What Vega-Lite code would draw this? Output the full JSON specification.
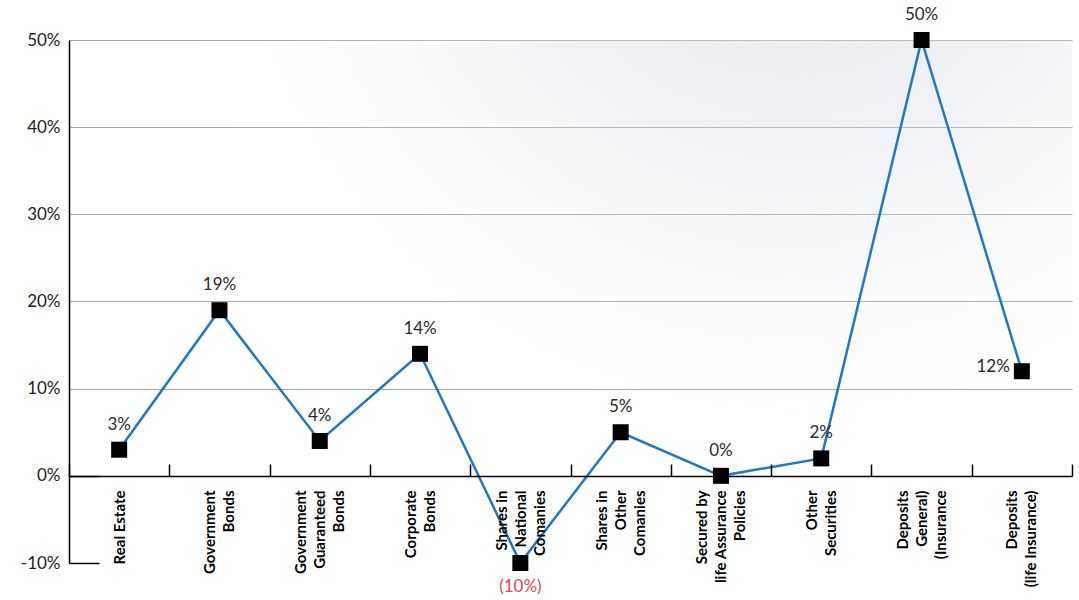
{
  "$schema": "https://vega.github.io/schema/vega-lite/v6.json",
  "width": 1003,
  "height": 523,
  "autosize": {"type": "none"},
  "padding": {"left": 69, "top": 40, "right": 7, "bottom": 37},
  "background": "white",
  "config": {"view": {"stroke": null}, "font": "Lato"},
  "layer": [
    {
      "data": {"values": [{"bg": 1}]},
      "mark": {
        "type": "rect",
        "color": {
          "gradient": "radial",
          "x1": 0.72, "y1": 0.05, "r1": 0,
          "x2": 0.72, "y2": 0.05, "r2": 0.62,
          "stops": [
            {"offset": 0, "color": "rgba(205,208,220,0.6)"},
            {"offset": 0.5, "color": "rgba(220,223,231,0.4)"},
            {"offset": 1, "color": "rgba(255,255,255,0)"}
          ]
        }
      },
      "encoding": {}
    },
    {
      "data": {
        "values": [
          {"cat": "Real Estate", "v": 0.03},
          {"cat": "Government|Bonds", "v": 0.19},
          {"cat": "Government|Guaranteed|Bonds", "v": 0.04},
          {"cat": "Corporate|Bonds", "v": 0.14},
          {"cat": "Shares in|National|Comanies", "v": -0.10},
          {"cat": "Shares in|Other|Comanies", "v": 0.05},
          {"cat": "Secured by|life Assurance|Policies", "v": 0.0},
          {"cat": "Other|Securities", "v": 0.02},
          {"cat": "Deposits|General)|(Insurance", "v": 0.50},
          {"cat": "Deposits|(life Insurance)", "v": 0.12}
        ]
      },
      "encoding": {
        "x": {
          "field": "cat",
          "type": "nominal",
          "sort": null,
          "title": null,
          "scale": {"type": "band", "paddingInner": 0, "paddingOuter": 0},
          "axis": {
            "orient": "bottom",
            "offset": -87,
            "zindex": 1,
            "domainColor": "#000000",
            "domainWidth": 1.5,
            "tickBand": "extent",
            "tickSize": -12,
            "tickColor": "#000000",
            "tickWidth": 1.5,
            "labelAngle": -90,
            "labelAlign": "right",
            "labelBaseline": "middle",
            "labelPadding": 26,
            "labelFont": "Lato",
            "labelFontWeight": "bold",
            "labelFontSize": 15,
            "labelColor": "#000000",
            "labelLineHeight": 19,
            "labelOffset": {
              "condition": [
                {"test": "length(split(datum.label, '|')) == 3", "value": -19},
                {"test": "length(split(datum.label, '|')) == 2", "value": -10}
              ],
              "value": 0
            },
            "labelExpr": "split(datum.label, '|')"
          }
        },
        "y": {
          "field": "v",
          "type": "quantitative",
          "title": null,
          "scale": {"domain": [-0.1, 0.5], "nice": false, "zero": false},
          "axis": {
            "values": [-0.1, 0, 0.1, 0.2, 0.3, 0.4, 0.5],
            "labelExpr": "replace(format(datum.value, '.0%'), '\u2212', '-')",
            "domainColor": "#000000",
            "domainWidth": 1.5,
            "tickSize": -30,
            "tickColor": "#000000",
            "tickWidth": 1.5,
            "tickOpacity": {"condition": {"test": "datum.value <= 0", "value": 1}, "value": 0},
            "grid": true,
            "gridColor": "#a4a4a4",
            "gridWidth": 1,
            "gridOpacity": {"condition": {"test": "datum.value <= 0", "value": 0}, "value": 1},
            "labelPadding": 39,
            "labelFontSize": 17,
            "labelFontWeight": "normal",
            "labelColor": "#222222",
            "labelFont": "Lato"
          }
        }
      },
      "layer": [
        {"mark": {"type": "line", "color": "#2077c4", "strokeWidth": 2.5}},
        {"mark": {"type": "square", "size": 256, "color": "#000000", "opacity": 1, "filled": true}},
        {
          "transform": [{"filter": "datum.v >= 0 && datum.cat != 'Deposits|(life Insurance)'"}],
          "mark": {"type": "text", "dy": -25, "fontSize": 17, "color": "#2b2b2b", "font": "Lato"},
          "encoding": {"text": {"field": "v", "type": "quantitative", "format": "(.0%"}}
        },
        {
          "transform": [{"filter": "datum.v < 0"}],
          "mark": {"type": "text", "dy": 24, "fontSize": 17, "color": "#e5474b", "font": "Lato"},
          "encoding": {"text": {"field": "v", "type": "quantitative", "format": "(.0%"}}
        },
        {
          "transform": [{"filter": "datum.cat == 'Deposits|(life Insurance)'"}],
          "mark": {"type": "text", "dx": -12, "dy": -4, "align": "right", "fontSize": 17, "color": "#2b2b2b", "font": "Lato"},
          "encoding": {"text": {"field": "v", "type": "quantitative", "format": "(.0%"}}
        }
      ]
    }
  ]
}
